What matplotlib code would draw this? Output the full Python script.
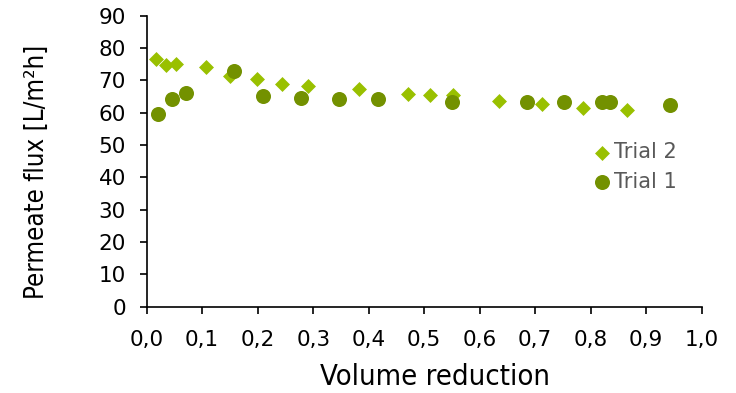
import matplotlib.pyplot as plt
from matplotlib import font_manager

# Data
trial2_x = [0.017, 0.035, 0.053, 0.106, 0.150, 0.199, 0.244, 0.290, 0.382,
            0.470, 0.510, 0.552, 0.634, 0.713, 0.787, 0.865]
trial2_y = [76.5, 74.8, 75.0, 74.0, 71.4, 70.4, 69.0, 68.2, 67.3,
            65.8, 65.5, 65.5, 63.7, 62.7, 61.6, 60.8]

trial1_x = [0.021, 0.046, 0.071, 0.157, 0.210, 0.278, 0.347, 0.416,
            0.550, 0.685, 0.752, 0.820, 0.834, 0.943]
trial1_y = [59.6, 64.1, 66.2, 73.0, 65.2, 64.5, 64.3, 64.3,
            63.4, 63.4, 63.4, 63.4, 63.4, 62.4]

x_ticks = [i / 10 for i in range(11)]
x_labels = [f"{t:.1f}".replace(".", ",") for t in x_ticks]
y_ticks = list(range(0, 91, 10))

# look for a condensed face for the axis titles
label_file = None
for f in font_manager.fontManager.ttflist:
    if f.name == "DejaVu Sans" and "ondensed" in f.fname and f.weight in (400, "normal") \
            and f.style == "normal":
        label_file = f.fname
        break
if label_file is None:
    for f in font_manager.fontManager.ttflist:
        if f.name == "Liberation Sans Narrow" and f.style == "normal" and f.weight in (400, "normal"):
            label_file = f.fname
            break

def label_font(size):
    if label_file:
        return font_manager.FontProperties(fname=label_file, size=size)
    return font_manager.FontProperties(family="DejaVu Sans", size=size)

plt.rcParams['font.family'] = ['DejaVu Sans']

fig = plt.figure(figsize=(7.36, 3.93), dpi=100)
ax = fig.add_axes([0.1993, 0.2196, 0.7541, 0.7404])

ax.scatter(trial2_x, trial2_y, marker="D", s=58, color="#99c000",
           linewidths=0, label="Trial 2", zorder=3)
ax.scatter(trial1_x, trial1_y, marker="o", s=117, color="#739100",
           linewidths=0, label="Trial 1", zorder=4)

ax.set_xlim(0, 1.0)
ax.set_ylim(0, 90)
ax.set_xticks(x_ticks)
ax.set_xticklabels(x_labels)
ax.set_yticks(y_ticks)
ax.tick_params(axis="both", direction="out", length=5, width=1.2,
               labelsize=15.5, colors="black")
ax.tick_params(axis="x", pad=12)
ax.tick_params(axis="y", pad=10)

for side in ["top", "right"]:
    ax.spines[side].set_visible(False)
for side in ["left", "bottom"]:
    ax.spines[side].set_linewidth(1.2)

ax.set_xlabel("Volume reduction", fontproperties=label_font(21))
ax.set_ylabel("Permeate flux [L/m²h]", fontproperties=label_font(18.5))
ax.xaxis.set_label_coords(0.519, -0.195)
ax.yaxis.set_label_coords(-0.174, 0.463)

leg = ax.legend(loc="upper left", bbox_to_anchor=(0.782, 0.594), frameon=False,
                fontsize=15, handletextpad=0.0, labelspacing=0.45,
                borderaxespad=0, handlelength=1.2)
for t in leg.get_texts():
    t.set_color("#595959")

fig.savefig("out.png", dpi=100)
